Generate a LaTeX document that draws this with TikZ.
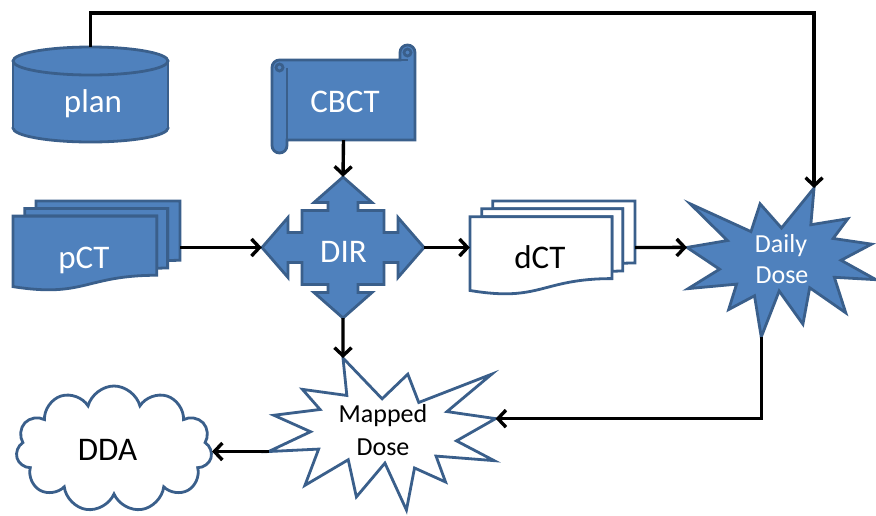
\documentclass[tikz,border=0pt]{standalone}
\usepackage{fontspec}
\setmainfont{Carlito}
\usetikzlibrary{arrows.meta,shapes.symbols}
\definecolor{fillblue}{HTML}{4F81BD}
\definecolor{edgeblue}{HTML}{3A5F8B}
\tikzset{
  shapeline/.style={draw=edgeblue, line width=2.8pt},
  bluefill/.style={shapeline, fill=fillblue},
  whitefill/.style={shapeline, fill=white},
  conn/.style={draw=black, line width=3.4pt, -{Straight Barb[length=8pt,width=17pt]}},
  hold/.style={draw=none, inner sep=0pt, rectangle},
  bigw/.style={font=\fontsize{33}{40}\selectfont, text=white, anchor=base, inner sep=0pt},
  bigk/.style={font=\fontsize{33}{40}\selectfont, text=black, anchor=base, inner sep=0pt},
  smallw/.style={font=\fontsize{26}{31}\selectfont, text=white, anchor=base, inner sep=0pt},
  smallk/.style={font=\fontsize{26}{31}\selectfont, text=black, anchor=base, inner sep=0pt},
}
\newcommand\mdocshape[5]{%
  \begin{scope}[shift={(#1pt,-#2pt)}, x=#3pt, y=-#4pt]
    \path[#5] (13.76,8.40) -- (13.76,0) -- (100,0) -- (100,66.63)
      .. controls (96.30,66.63) and (92.59,66.98) .. (92.59,66.98) -- (92.59,8.40) -- cycle;
    \path[#5] (7.09,17.01) -- (7.09,8.40) -- (92.59,8.40) -- (92.59,75.24)
      .. controls (89.34,75.24) and (86.09,75.70) .. (86.09,75.70) -- (86.09,17.01) -- cycle;
    \path[#5] (0,96.21) .. controls (43.05,108.99) and (43.05,83.44) .. (86.09,83.44)
      -- (86.09,17.01) -- (0,17.01) -- cycle;
  \end{scope}}
\newcommand\sealpath{(50.00,26.85) -- (67.23,0) -- (65.53,24.65) -- (85.09,20.63) -- (77.32,33.87)
  -- (97.67,37.67) -- (81.51,48.50) -- (100,61.53) -- (77.95,59.92) -- (84.00,83.77)
  -- (64.91,66.93) -- (61.33,91.38) -- (48.76,69.14) -- (39.28,100) -- (35.72,72.35)
  -- (22.05,81.56) -- (26.24,64.52) -- (0.63,67.53) -- (17.23,54.51) -- (0,39.88)
  -- (21.42,35.26) -- (1.71,10.63) -- (33.85,29.26) -- (38.67,10.63) -- cycle}
\begin{document}
\begin{tikzpicture}[x=1pt, y=-1pt, line join=miter]
\useasboundingbox (0,0) rectangle (876,515);
\fill[white] (0,0) rectangle (876,515);

% plan cylinder
\draw[bluefill] (90.5,128) ellipse [x radius=77.5, y radius=14];
\fill[fillblue] (13,61) rectangle (168,128);
\draw[shapeline] (13,61) -- (13,128) (168,61) -- (168,128);
\draw[bluefill] (90.5,61) ellipse [x radius=77.5, y radius=14];
\node[hold, minimum width=155pt, minimum height=95pt] (plan) at (90.5,94.5) {};
\node[bigw] (planlbl) at (93,112) {plan};

% CBCT scroll
\draw[bluefill] (279.5,60) -- (400,60) -- (400,52.5) arc[start angle=180, end angle=0, radius=7.5pt]
  -- (415,140) -- (287,140) -- (287,145.5) arc[start angle=0, end angle=-180, radius=7.5pt]
  -- (272,67.5) arc[start angle=180, end angle=90, radius=7.5pt] -- cycle;
\draw[shapeline] (287,67.5) -- (287,140);
\draw[shapeline] (279.5,67.5) circle[radius=3.5pt];
\draw[shapeline] (407.5,52.5) circle[radius=3.5pt];
\draw[shapeline] (400,60) -- (407.5,60);
\node[hold, minimum width=143pt, minimum height=95pt] (cbct) at (343.5,92.5) {};
\node[bigw] (cbctlbl) at (345,112) {CBCT};

% pCT multi-document
\mdocshape{13}{201}{1.67}{0.89}{bluefill}
\node[hold, minimum width=167pt, minimum height=89pt] (pCT) at (96.5,245.5) {};
\node[bigw] (pctlbl) at (84,268) {pCT};

% dCT multi-document
\mdocshape{470}{201}{1.65}{0.93}{whitefill}
\node[hold, minimum width=165pt, minimum height=93pt] (dCT) at (552.5,247.5) {};
\node[bigk] (dctlbl) at (540,268) {dCT};

% DIR quad arrow callout
\begin{scope}[shift={(343pt,-247.5pt)}]
  \draw[bluefill] (0,-70.5) -- (29,-45) -- (15,-45) -- (15,-37) -- (41,-37) -- (41,-15) -- (55,-15)
    -- (55,-30) -- (81,0) -- (55,30) -- (55,15) -- (41,15) -- (41,37) -- (15,37) -- (15,45)
    -- (29,45) -- (0,70.5) -- (-29,45) -- (-15,45) -- (-15,37) -- (-41,37) -- (-41,15)
    -- (-55,15) -- (-55,30) -- (-81,0) -- (-55,-30) -- (-55,-15) -- (-41,-15) -- (-41,-37)
    -- (-15,-37) -- (-15,-45) -- (-29,-45) -- cycle;
\end{scope}
\node[hold, minimum width=162pt, minimum height=141pt] (DIR) at (343,247.5) {};
\node[bigw] (dirlbl) at (343.5,262) {DIR};

% Daily Dose explosion
\begin{scope}[shift={(687pt,-188pt)}, x=1.89pt, y=-1.49pt]
  \draw[bluefill] \sealpath;
  \coordinate (dTop) at (67.23,0);
  \coordinate (dLeft) at (0,39.88);
  \coordinate (dBot) at (39.28,100);
\end{scope}
\node[smallw] (dailyA) at (781,252) {Daily};
\node[smallw] (dailyB) at (782,283) {Dose};

% Mapped Dose explosion (mirrored)
\begin{scope}[shift={(495.6pt,-358pt)}, x=-2.27pt, y=-1.52pt]
  \draw[whitefill] \sealpath;
  \coordinate (mTop) at (67.23,0);
  \coordinate (mRight) at (0,39.88);
  \coordinate (mLeft) at (100,61.53);
\end{scope}
\node[smallk] (mapA) at (383,422) {Mapped};
\node[smallk] (mapB) at (383,455) {Dose};

% DDA cloud
\node[cloud, cloud puffs=11, cloud ignores aspect, minimum width=196pt, minimum height=126pt,
  whitefill] (DDA) at (114,449) {};
\node[bigk] (ddalbl) at (107.5,460) {DDA};

% connectors
\draw[conn] (plan.north) -- ++(0,-34) -| (dTop);
\draw[conn] (cbct.south) -- (DIR.north);
\draw[conn] (pCT.east |- DIR.west) -- (DIR.west);
\draw[conn] (DIR.east) -- (dCT.west);
\draw[conn] (dCT.east) -- (dLeft);
\draw[conn] (DIR.south) -- (mTop);
\draw[conn] (dBot) |- (mRight);
\draw[conn] (mLeft) -- (mLeft -| DDA.east);
\end{tikzpicture}
\end{document}
